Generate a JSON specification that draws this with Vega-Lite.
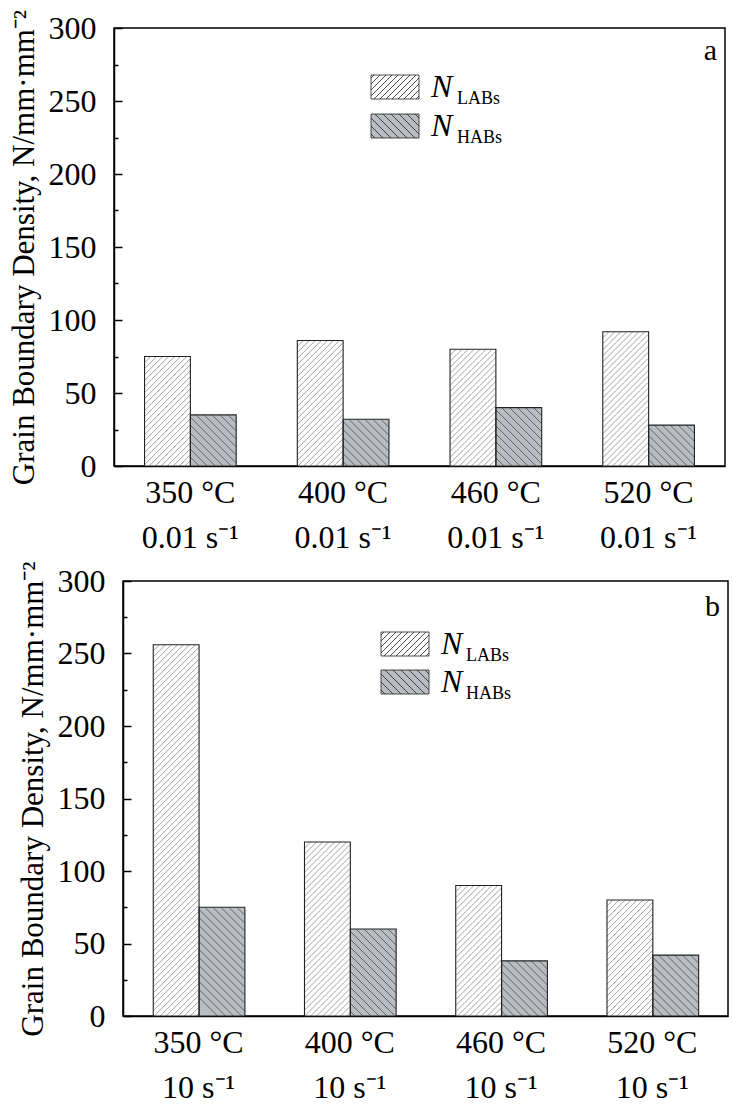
{
  "$schema": "https://vega.github.io/schema/vega-lite/v6.json",
  "background": "white",
  "padding": {"left": 6, "top": 8, "right": 5, "bottom": 5},
  "spacing": 6,
  "datasets": {
    "slow": [
      {"cond": "350 °C", "type": "LABs", "value": 75},
      {"cond": "350 °C", "type": "HABs", "value": 35},
      {"cond": "400 °C", "type": "LABs", "value": 86},
      {"cond": "400 °C", "type": "HABs", "value": 32},
      {"cond": "460 °C", "type": "LABs", "value": 80},
      {"cond": "460 °C", "type": "HABs", "value": 40},
      {"cond": "520 °C", "type": "LABs", "value": 92},
      {"cond": "520 °C", "type": "HABs", "value": 28}
    ],
    "fast": [
      {"cond": "350 °C", "type": "LABs", "value": 256},
      {"cond": "350 °C", "type": "HABs", "value": 75},
      {"cond": "400 °C", "type": "LABs", "value": 120},
      {"cond": "400 °C", "type": "HABs", "value": 60},
      {"cond": "460 °C", "type": "LABs", "value": 90},
      {"cond": "460 °C", "type": "HABs", "value": 38},
      {"cond": "520 °C", "type": "LABs", "value": 80},
      {"cond": "520 °C", "type": "HABs", "value": 42}
    ]
  },
  "resolve": {
    "scale": {"x": "independent", "y": "independent", "color": "independent", "opacity": "independent"},
    "legend": {"color": "independent", "opacity": "independent"}
  },
  "vconcat": [
    {
      "spacing": 0,
      "resolve": {
        "scale": {"x": "independent", "y": "independent", "color": "independent", "opacity": "independent"},
        "legend": {"color": "independent", "opacity": "independent"}
      },
      "hconcat": [
        {"width": 1, "height": 1, "view": {"stroke": null}, "data": {"name": "slow"}, "mark": {"type": "point", "opacity": 0, "size": 0}},
        {
          "width": 611,
          "height": 438,
          "data": {"name": "slow"},
          "title": {"text": "a", "anchor": "end", "frame": "group", "offset": -50, "baseline": "alphabetic", "dx": -8, "dy": 31},
          "encoding": {
            "x": {
              "field": "cond", "type": "nominal", "sort": null,
              "scale": {"paddingInner": 0.4, "paddingOuter": 0.2},
              "axis": {"title": null, "labelExpr": "[datum.label, '0.01 s⁻¹']"}
            },
            "xOffset": {"field": "type", "type": "nominal", "sort": ["LABs", "HABs"], "scale": {"paddingInner": 0, "paddingOuter": 0}},
            "y": {
              "field": "value", "type": "quantitative",
              "scale": {"domain": [0, 300], "nice": false},
              "axis": {
                "title": "Grain Boundary Density, N/mm·mm⁻²",
                "values": [0, 25, 50, 75, 100, 125, 150, 175, 200, 225, 250, 275, 300],
                "labelExpr": "datum.value % 50 === 0 ? datum.label : ''",
                "labelOverlap": false,
                "labelPadding": 26,
                "titlePadding": 8,
                "tickSize": {"condition": {"test": "datum.value % 50 === 0", "value": -8}, "value": -4}
              }
            }
          },
          "layer": [
            {
              "mark": {"type": "bar", "strokeWidth": 0},
              "encoding": {
                "color": {
                  "field": "type", "type": "nominal",
                  "scale": {"domain": ["LABs", "HABs"], "range": ["#ffffff", "#b9bdc1"]},
                  "legend": {
                    "legendX": 265, "legendY": 43,
                    "labelExpr": "'N'", "labelFontStyle": "italic", "labelFontSize": 32,
                    "labelOffset": 20, "rowPadding": 7, "symbolSize": 576,
                    "encode": {"symbols": {"update": {"shape": {"signal": "datum.value === 'LABs' ? 'M-2,-1H2V1H-2ZM-2,-0.75L-1.75,-1M-2,-0.25L-1.25,-1M-2,0.25L-0.75,-1M-2,0.75L-0.25,-1M-1.75,1L0.25,-1M-1.25,1L0.75,-1M-0.75,1L1.25,-1M-0.25,1L1.75,-1M0.25,1L2,-0.75M0.75,1L2,-0.25M1.25,1L2,0.25M1.75,1L2,0.75' : 'M-2,-1H2V1H-2ZM-2,0.667L-1.667,1M-2,0L-1,1M-2,-0.667L-0.333,1M-1.667,-1L0.333,1M-1,-1L1,1M-0.333,-1L1.667,1M0.333,-1L2,0.667M1,-1L2,0M1.667,-1L2,-0.667'"}}}}
                  }
                }
              }
            },
            {
              "transform": [{"filter": "datum.type === 'LABs'"}],
              "mark": {"type": "point", "size": 4, "filled": false, "stroke": "#7a7a7a", "strokeWidth": 0.7, "clip": true, "opacity": 1,
                "shape": "M-22.8,6l6,-6M-22.8,12l12,-12M-22.8,18l18,-18M-22.8,24l24,-24M-22.8,30l30,-30M-22.8,36l36,-36M-22.8,42l42,-42M-22.8,48l45.6,-45.6m-45.6,51.6l45.6,-45.6m-45.6,51.6l45.6,-45.6m-45.6,51.6l45.6,-45.6m-45.6,51.6l45.6,-45.6m-45.6,51.6l45.6,-45.6m-45.6,51.6l45.6,-45.6m-45.6,51.6l45.6,-45.6m-45.6,51.6l45.6,-45.6m-45.6,51.6l45.6,-45.6m-45.6,51.6l45.6,-45.6m-45.6,51.6l45.6,-45.6m-45.6,51.6l45.6,-45.6m-45.6,51.6l45.6,-45.6m-45.6,51.6l45.6,-45.6m-45.6,51.6l45.6,-45.6m-45.6,51.6l45.6,-45.6m-45.6,51.6l45.6,-45.6m-45.6,51.6l45.6,-45.6m-45.6,51.6l45.6,-45.6m-45.6,51.6l45.6,-45.6"}
            },
            {
              "transform": [{"filter": "datum.type === 'HABs'"}],
              "mark": {"type": "point", "size": 4, "filled": false, "stroke": "#3c3c3c", "strokeWidth": 0.7, "clip": true, "opacity": 1,
                "shape": "M14.8,0l8,8M6.8,0l16,16M-1.2,0l24,24M-9.2,0l32,32M-17.2,0l40,40M-22.8,2.4l45.6,45.6m-45.6,-37.6l45.6,45.6m-45.6,-37.6l45.6,45.6m-45.6,-37.6l45.6,45.6m-45.6,-37.6l45.6,45.6m-45.6,-37.6l45.6,45.6m-45.6,-37.6l45.6,45.6m-45.6,-37.6l45.6,45.6m-45.6,-37.6l45.6,45.6"}
            },
            {
              "mark": {"type": "bar", "fillOpacity": 0, "stroke": "#222222", "strokeWidth": 1.1},
              "encoding": {
                "opacity": {
                  "field": "type", "type": "ordinal", "sort": ["LABs", "HABs"],
                  "scale": {"range": [1, 1]},
                  "legend": {"legendX": 325, "legendY": 62, "labelFontSize": 18, "labelOffset": 0, "rowPadding": 21, "symbolSize": 0, "symbolOpacity": 0, "symbolStrokeWidth": 0}
                }
              }
            }
          ]
        }
      ]
    },
    {
      "spacing": 0,
      "resolve": {
        "scale": {"x": "independent", "y": "independent", "color": "independent", "opacity": "independent"},
        "legend": {"color": "independent", "opacity": "independent"}
      },
      "hconcat": [
        {"width": 10, "height": 1, "view": {"stroke": null}, "data": {"name": "fast"}, "mark": {"type": "point", "opacity": 0, "size": 0}},
        {
          "width": 605,
          "height": 435,
          "data": {"name": "fast"},
          "title": {"text": "b", "anchor": "end", "frame": "group", "offset": -50, "baseline": "alphabetic", "dx": -8, "dy": 35},
          "encoding": {
            "x": {
              "field": "cond", "type": "nominal", "sort": null,
              "scale": {"paddingInner": 0.4, "paddingOuter": 0.2},
              "axis": {"title": null, "labelExpr": "[datum.label, '10 s⁻¹']"}
            },
            "xOffset": {"field": "type", "type": "nominal", "sort": ["LABs", "HABs"], "scale": {"paddingInner": 0, "paddingOuter": 0}},
            "y": {
              "field": "value", "type": "quantitative",
              "scale": {"domain": [0, 300], "nice": false},
              "axis": {
                "title": "Grain Boundary Density, N/mm·mm⁻²",
                "values": [0, 25, 50, 75, 100, 125, 150, 175, 200, 225, 250, 275, 300],
                "labelExpr": "datum.value % 50 === 0 ? datum.label : ''",
                "labelOverlap": false,
                "labelPadding": 26,
                "titlePadding": 8,
                "tickSize": {"condition": {"test": "datum.value % 50 === 0", "value": -8}, "value": -4}
              }
            }
          },
          "layer": [
            {
              "mark": {"type": "bar", "strokeWidth": 0},
              "encoding": {
                "color": {
                  "field": "type", "type": "nominal",
                  "scale": {"domain": ["LABs", "HABs"], "range": ["#ffffff", "#b9bdc1"]},
                  "legend": {
                    "legendX": 266, "legendY": 47,
                    "labelExpr": "'N'", "labelFontStyle": "italic", "labelFontSize": 32,
                    "labelOffset": 20, "rowPadding": 6, "symbolSize": 576,
                    "encode": {"symbols": {"update": {"shape": {"signal": "datum.value === 'LABs' ? 'M-2,-1H2V1H-2ZM-2,-0.75L-1.75,-1M-2,-0.25L-1.25,-1M-2,0.25L-0.75,-1M-2,0.75L-0.25,-1M-1.75,1L0.25,-1M-1.25,1L0.75,-1M-0.75,1L1.25,-1M-0.25,1L1.75,-1M0.25,1L2,-0.75M0.75,1L2,-0.25M1.25,1L2,0.25M1.75,1L2,0.75' : 'M-2,-1H2V1H-2ZM-2,0.667L-1.667,1M-2,0L-1,1M-2,-0.667L-0.333,1M-1.667,-1L0.333,1M-1,-1L1,1M-0.333,-1L1.667,1M0.333,-1L2,0.667M1,-1L2,0M1.667,-1L2,-0.667'"}}}}
                  }
                }
              }
            },
            {
              "transform": [{"filter": "datum.type === 'LABs'"}],
              "mark": {"type": "point", "size": 4, "filled": false, "stroke": "#7a7a7a", "strokeWidth": 0.7, "clip": true, "opacity": 1,
                "shape": "M-22.8,6l6,-6M-22.8,12l12,-12M-22.8,18l18,-18M-22.8,24l24,-24M-22.8,30l30,-30M-22.8,36l36,-36M-22.8,42l42,-42M-22.8,48l45.6,-45.6m-45.6,51.6l45.6,-45.6m-45.6,51.6l45.6,-45.6m-45.6,51.6l45.6,-45.6m-45.6,51.6l45.6,-45.6m-45.6,51.6l45.6,-45.6m-45.6,51.6l45.6,-45.6m-45.6,51.6l45.6,-45.6m-45.6,51.6l45.6,-45.6m-45.6,51.6l45.6,-45.6m-45.6,51.6l45.6,-45.6m-45.6,51.6l45.6,-45.6m-45.6,51.6l45.6,-45.6m-45.6,51.6l45.6,-45.6m-45.6,51.6l45.6,-45.6m-45.6,51.6l45.6,-45.6m-45.6,51.6l45.6,-45.6m-45.6,51.6l45.6,-45.6m-45.6,51.6l45.6,-45.6m-45.6,51.6l45.6,-45.6m-45.6,51.6l45.6,-45.6m-45.6,51.6l45.6,-45.6m-45.6,51.6l45.6,-45.6m-45.6,51.6l45.6,-45.6m-45.6,51.6l45.6,-45.6m-45.6,51.6l45.6,-45.6m-45.6,51.6l45.6,-45.6m-45.6,51.6l45.6,-45.6m-45.6,51.6l45.6,-45.6m-45.6,51.6l45.6,-45.6m-45.6,51.6l45.6,-45.6m-45.6,51.6l45.6,-45.6m-45.6,51.6l45.6,-45.6m-45.6,51.6l45.6,-45.6m-45.6,51.6l45.6,-45.6m-45.6,51.6l45.6,-45.6m-45.6,51.6l45.6,-45.6m-45.6,51.6l45.6,-45.6m-45.6,51.6l45.6,-45.6m-45.6,51.6l45.6,-45.6m-45.6,51.6l45.6,-45.6m-45.6,51.6l45.6,-45.6m-45.6,51.6l45.6,-45.6m-45.6,51.6l45.6,-45.6m-45.6,51.6l45.6,-45.6m-45.6,51.6l45.6,-45.6m-45.6,51.6l45.6,-45.6m-45.6,51.6l45.6,-45.6m-45.6,51.6l45.6,-45.6m-45.6,51.6l45.6,-45.6m-45.6,51.6l45.6,-45.6m-45.6,51.6l45.6,-45.6m-45.6,51.6l45.6,-45.6m-45.6,51.6l45.6,-45.6m-45.6,51.6l45.6,-45.6m-45.6,51.6l45.6,-45.6m-45.6,51.6l45.6,-45.6m-45.6,51.6l45.6,-45.6m-45.6,51.6l45.6,-45.6m-45.6,51.6l45.6,-45.6m-45.6,51.6l45.6,-45.6m-45.6,51.6l45.6,-45.6m-45.6,51.6l45.6,-45.6m-45.6,51.6l45.6,-45.6m-45.6,51.6l45.6,-45.6m-45.6,51.6l45.6,-45.6m-45.6,51.6l45.6,-45.6m-45.6,51.6l45.6,-45.6"}
            },
            {
              "transform": [{"filter": "datum.type === 'HABs'"}],
              "mark": {"type": "point", "size": 4, "filled": false, "stroke": "#3c3c3c", "strokeWidth": 0.7, "clip": true, "opacity": 1,
                "shape": "M14.8,0l8,8M6.8,0l16,16M-1.2,0l24,24M-9.2,0l32,32M-17.2,0l40,40M-22.8,2.4l45.6,45.6m-45.6,-37.6l45.6,45.6m-45.6,-37.6l45.6,45.6m-45.6,-37.6l45.6,45.6m-45.6,-37.6l45.6,45.6m-45.6,-37.6l45.6,45.6m-45.6,-37.6l45.6,45.6m-45.6,-37.6l45.6,45.6m-45.6,-37.6l45.6,45.6m-45.6,-37.6l45.6,45.6m-45.6,-37.6l45.6,45.6m-45.6,-37.6l45.6,45.6"}
            },
            {
              "mark": {"type": "bar", "fillOpacity": 0, "stroke": "#222222", "strokeWidth": 1.1},
              "encoding": {
                "opacity": {
                  "field": "type", "type": "ordinal", "sort": ["LABs", "HABs"],
                  "scale": {"range": [1, 1]},
                  "legend": {"legendX": 325, "legendY": 66, "labelFontSize": 18, "labelOffset": 0, "rowPadding": 20, "symbolSize": 0, "symbolOpacity": 0, "symbolStrokeWidth": 0}
                }
              }
            }
          ]
        }
      ]
    }
  ],
  "config": {
    "font": "Liberation Serif",
    "view": {"stroke": "black", "strokeWidth": 1.5},
    "title": {"font": "Liberation Serif", "fontSize": 30, "fontWeight": "normal", "color": "black"},
    "axis": {
      "grid": false,
      "domainColor": "black", "domainWidth": 1.5,
      "tickColor": "black", "tickWidth": 1.5,
      "labelFont": "Liberation Serif", "labelFontSize": 32, "labelColor": "black",
      "titleFont": "Liberation Serif", "titleFontSize": 31, "titleFontWeight": "normal", "titleColor": "black"
    },
    "axisX": {"ticks": false, "labelAngle": 0, "labelPadding": 11, "labelLineHeight": 45, "labelBaseline": "top"},
    "legend": {
      "orient": "none", "title": null, "padding": 0,
      "labelFont": "Liberation Serif", "labelColor": "black",
      "symbolStrokeColor": "#222222", "symbolStrokeWidth": 0.8
    }
  }
}
